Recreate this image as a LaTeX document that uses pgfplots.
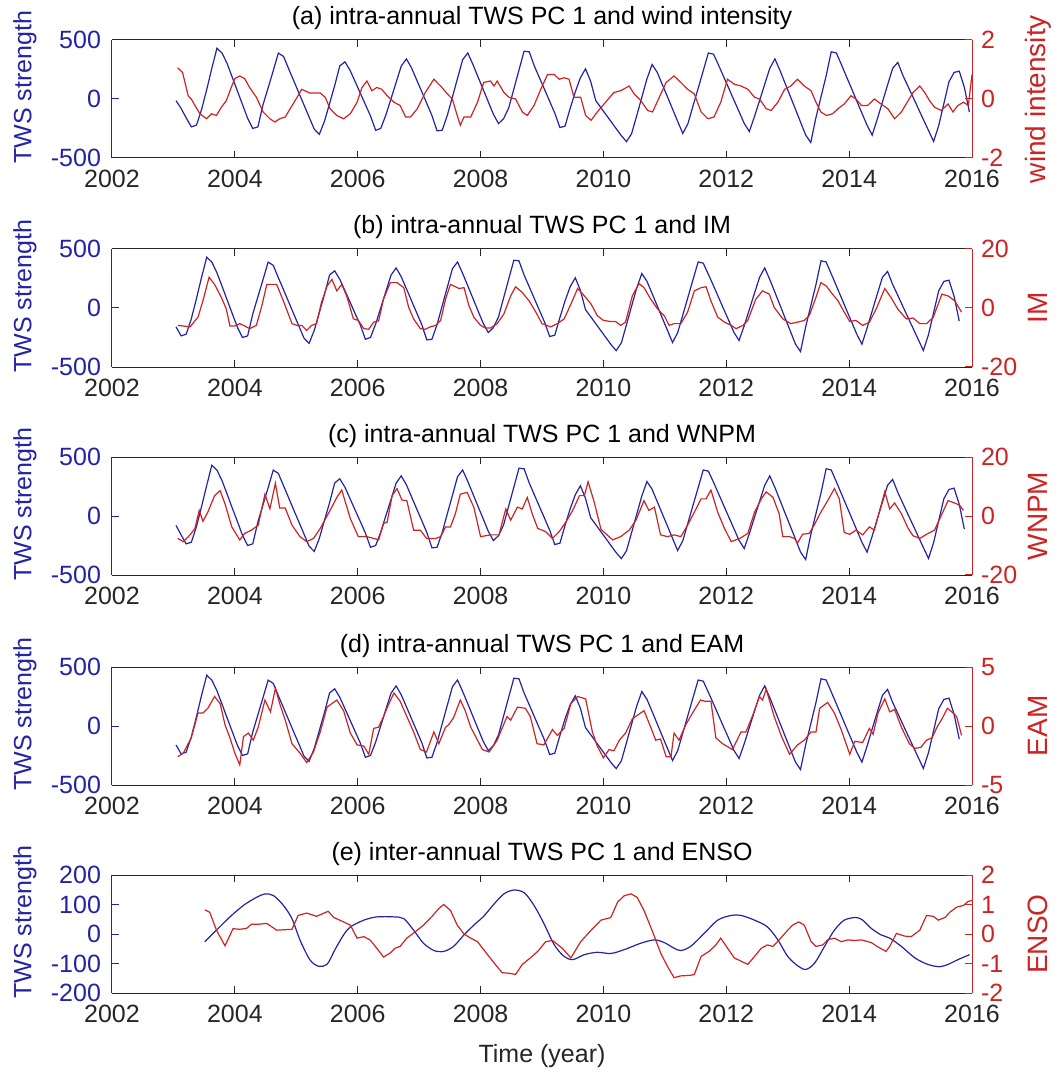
\documentclass[border=0pt]{standalone}
\usepackage{pgfplots}
\usepackage{pgfplotstable}
\pgfplotsset{compat=1.18}
\usepackage{fontspec}
\setmainfont{Liberation Sans}
\definecolor{tws}{RGB}{35,35,165}
\definecolor{ensred}{RGB}{205,35,35}
\definecolor{axgray}{RGB}{38,38,38}

% t: panel (a) time; tc: panel (c) time (1 month earlier); tb: panels (b),(d) time (2 months earlier)
\pgfplotstableread[row sep=\\]{
t tc tb y\\
2003.042 2002.958 2002.875 -14\\ 2003.125 2003.042 2002.958 -80\\ 2003.208 2003.125 2003.042 -160\\ 2003.292 2003.208 2003.125 -236\\ 2003.375 2003.292 2003.208 -222\\ 2003.458 2003.375 2003.292 -90\\ 2003.542 2003.458 2003.375 80\\ 2003.625 2003.542 2003.458 260\\ 2003.708 2003.625 2003.542 430\\ 2003.792 2003.708 2003.625 389\\ 2003.875 2003.792 2003.708 299\\ 2003.958 2003.875 2003.792 184\\
2004.042 2003.958 2003.875 67\\ 2004.125 2004.042 2003.958 -48\\ 2004.208 2004.125 2004.042 -164\\ 2004.292 2004.208 2004.125 -250\\ 2004.375 2004.292 2004.208 -236\\ 2004.458 2004.375 2004.292 -50\\ 2004.542 2004.458 2004.375 95\\ 2004.625 2004.542 2004.458 240\\ 2004.708 2004.625 2004.542 389\\ 2004.792 2004.708 2004.625 361\\ 2004.875 2004.792 2004.708 257\\ 2004.958 2004.875 2004.792 155\\
2005.042 2004.958 2004.875 52\\ 2005.125 2005.042 2004.958 -50\\ 2005.208 2005.125 2005.042 -152\\ 2005.292 2005.208 2005.125 -255\\ 2005.375 2005.292 2005.208 -300\\ 2005.458 2005.375 2005.292 -190\\ 2005.542 2005.458 2005.375 -38\\ 2005.625 2005.542 2005.458 113\\ 2005.708 2005.625 2005.542 280\\ 2005.792 2005.708 2005.625 315\\ 2005.875 2005.792 2005.708 244\\ 2005.958 2005.875 2005.792 147\\
2006.042 2005.958 2005.875 50\\ 2006.125 2006.042 2005.958 -47\\ 2006.208 2006.125 2006.042 -144\\ 2006.292 2006.208 2006.125 -265\\ 2006.375 2006.292 2006.208 -250\\ 2006.458 2006.375 2006.292 -136\\ 2006.542 2006.458 2006.375 2\\ 2006.625 2006.542 2006.458 140\\ 2006.708 2006.625 2006.542 278\\ 2006.792 2006.708 2006.625 340\\ 2006.875 2006.792 2006.708 265\\ 2006.958 2006.875 2006.792 164\\
2007.042 2006.958 2006.875 63\\ 2007.125 2007.042 2006.958 -38\\ 2007.208 2007.125 2007.042 -140\\ 2007.292 2007.208 2007.125 -270\\ 2007.375 2007.292 2007.208 -265\\ 2007.458 2007.375 2007.292 -140\\ 2007.542 2007.458 2007.375 18\\ 2007.625 2007.542 2007.458 175\\ 2007.708 2007.625 2007.542 333\\ 2007.792 2007.708 2007.625 390\\ 2007.875 2007.792 2007.708 293\\ 2007.958 2007.875 2007.792 188\\
2008.042 2007.958 2007.875 82\\ 2008.125 2008.042 2007.958 -23\\ 2008.208 2008.125 2008.042 -129\\ 2008.292 2008.208 2008.125 -208\\ 2008.375 2008.292 2008.208 -167\\ 2008.458 2008.375 2008.292 -75\\ 2008.542 2008.458 2008.375 85\\ 2008.625 2008.542 2008.458 245\\ 2008.708 2008.625 2008.542 405\\ 2008.792 2008.708 2008.625 400\\ 2008.875 2008.792 2008.708 280\\ 2008.958 2008.875 2008.792 180\\
2009.042 2008.958 2008.875 80\\ 2009.125 2009.042 2008.958 -20\\ 2009.208 2009.125 2009.042 -120\\ 2009.292 2009.208 2009.125 -242\\ 2009.375 2009.292 2009.208 -230\\ 2009.458 2009.375 2009.292 -80\\ 2009.542 2009.458 2009.375 60\\ 2009.625 2009.542 2009.458 180\\ 2009.708 2009.625 2009.542 256\\ 2009.792 2009.708 2009.625 150\\ 2009.875 2009.792 2009.708 -14\\ 2009.958 2009.875 2009.792 -73\\
2010.042 2009.958 2009.875 -133\\ 2010.125 2010.042 2009.958 -192\\ 2010.208 2010.125 2010.042 -252\\ 2010.292 2010.208 2010.125 -311\\ 2010.375 2010.292 2010.208 -361\\ 2010.458 2010.375 2010.292 -295\\ 2010.542 2010.458 2010.375 -142\\ 2010.625 2010.542 2010.458 15\\ 2010.708 2010.625 2010.542 170\\ 2010.792 2010.708 2010.625 292\\ 2010.875 2010.792 2010.708 227\\ 2010.958 2010.875 2010.792 123\\
2011.042 2010.958 2010.875 19\\ 2011.125 2011.042 2010.958 -85\\ 2011.208 2011.125 2011.042 -189\\ 2011.292 2011.208 2011.125 -292\\ 2011.375 2011.292 2011.208 -210\\ 2011.458 2011.375 2011.292 -60\\ 2011.542 2011.458 2011.375 90\\ 2011.625 2011.542 2011.458 240\\ 2011.708 2011.625 2011.542 390\\ 2011.792 2011.708 2011.625 380\\ 2011.875 2011.792 2011.708 286\\ 2011.958 2011.875 2011.792 188\\
2012.042 2011.958 2011.875 89\\ 2012.125 2012.042 2011.958 -10\\ 2012.208 2012.125 2012.042 -108\\ 2012.292 2012.208 2012.125 -207\\ 2012.375 2012.292 2012.208 -275\\ 2012.458 2012.375 2012.292 -150\\ 2012.542 2012.458 2012.375 -13\\ 2012.625 2012.542 2012.458 124\\ 2012.708 2012.625 2012.542 260\\ 2012.792 2012.708 2012.625 340\\ 2012.875 2012.792 2012.708 241\\ 2012.958 2012.875 2012.792 132\\
2013.042 2012.958 2012.875 23\\ 2013.125 2013.042 2012.958 -86\\ 2013.208 2013.125 2013.042 -195\\ 2013.292 2013.208 2013.125 -305\\ 2013.375 2013.292 2013.208 -369\\ 2013.458 2013.375 2013.292 -160\\ 2013.542 2013.458 2013.375 18\\ 2013.625 2013.542 2013.458 195\\ 2013.708 2013.625 2013.542 400\\ 2013.792 2013.708 2013.625 390\\ 2013.875 2013.792 2013.708 290\\ 2013.958 2013.875 2013.792 187\\
2014.042 2013.958 2013.875 85\\ 2014.125 2014.042 2013.958 -18\\ 2014.208 2014.125 2014.042 -120\\ 2014.292 2014.208 2014.125 -223\\ 2014.375 2014.292 2014.208 -306\\ 2014.458 2014.375 2014.292 -170\\ 2014.542 2014.458 2014.375 -25\\ 2014.625 2014.542 2014.458 118\\ 2014.708 2014.625 2014.542 260\\ 2014.792 2014.708 2014.625 310\\ 2014.875 2014.792 2014.708 200\\ 2014.958 2014.875 2014.792 107\\
2015.042 2014.958 2014.875 13\\ 2015.125 2015.042 2014.958 -80\\ 2015.208 2015.125 2015.042 -174\\ 2015.292 2015.208 2015.125 -267\\ 2015.375 2015.292 2015.208 -360\\ 2015.458 2015.375 2015.292 -225\\ 2015.542 2015.458 2015.375 -39\\ 2015.625 2015.542 2015.458 146\\ 2015.708 2015.625 2015.542 225\\ 2015.792 2015.708 2015.625 236\\ 2015.875 2015.792 2015.708 100\\ 2015.958 2015.875 2015.792 -111\\
}\twsA

\pgfplotsset{
  base/.style={
    scale only axis, width=430pt, height=59pt,
    xmin=2002, xmax=2016,
    xtick={2002,2004,2006,2008,2010,2012,2014,2016},
    tick align=inside,
    major tick length=3.5pt,
    /pgf/number format/assume math mode=true,
    /pgf/number format/1000 sep={},
    font=\fontsize{12.5}{15}\selectfont,
    ticklabel style={font=\fontsize{12.5}{15}\selectfont},
    label style={font=\fontsize{12.5}{15}\selectfont},
  },
  lefty/.style={base,
    axis y line*=left,
    x axis line style={-, draw=axgray, line width=0.5pt},
    y axis line style={-, draw=tws, line width=0.5pt},
    xtick style={draw=axgray, line width=0.5pt},
    ytick style={draw=tws, line width=0.5pt},
    xticklabel style={text=axgray, yshift=-2.5pt},
    yticklabel style={text=tws, xshift=-2pt},
    ylabel={TWS strength},
    ylabel style={text=tws, at={(axis description cs:-0.1012,0.6)}, anchor=center},
    title style={at={(axis description cs:0.5,1)}, anchor=base, yshift=1.5pt, text=black, font=\fontsize{12.5}{15}\selectfont},
  },
  righty/.style={base,
    axis y line*=right, axis x line=none,
    y axis line style={-, draw=ensred, line width=0.5pt},
    ytick style={draw=ensred, line width=0.5pt},
    yticklabel style={text=ensred, xshift=1pt},
    ylabel style={text=ensred, at={(axis description cs:1.0767,0.5)}, anchor=center, font=\fontsize{14}{16}\selectfont},
  },
  tl/.style={tws, line width=0.6pt},
  rl/.style={ensred, line width=0.6pt},
}

\begin{document}
\begin{tikzpicture}
\path[use as bounding box] (-56pt,20pt) rectangle (474pt,-517.5pt);

% ---------- (a)
\begin{axis}[lefty, at={(0,0)}, anchor=north west,
  ymin=-500, ymax=500, ytick={-500,0,500},
  title={(a) intra-annual TWS PC 1 and wind intensity}]
\addplot[tl] table[x=t,y=y] {\twsA};
\end{axis}
\begin{axis}[righty, at={(0,0)}, anchor=north west,
  ymin=-2, ymax=2, ytick={-2,0,2}, ylabel={wind intensity}]
\addplot[rl] coordinates {(2003.07,1.06)(2003.15,0.89)(2003.24,0.11)(2003.29,0)(2003.35,-0.22)(2003.43,-0.5)(2003.54,-0.67)(2003.62,-0.5)(2003.70,-0.56)(2003.78,-0.28)(2003.86,-0.06)(2003.95,0.44)(2004.0,0.69)(2004.08,0.78)(2004.16,0.69)(2004.24,0.39)(2004.35,0.06)(2004.46,-0.44)(2004.57,-0.67)(2004.65,-0.78)(2004.73,-0.67)(2004.82,-0.61)(2004.90,-0.33)(2004.98,-0.06)(2005.09,0.33)(2005.22,0.2)(2005.39,0.2)(2005.47,0.06)(2005.55,-0.33)(2005.66,-0.56)(2005.77,-0.67)(2005.88,-0.5)(2005.99,-0.11)(2006.07,0.39)(2006.15,0.61)(2006.23,0.28)(2006.31,0.39)(2006.39,0.33)(2006.48,0.11)(2006.59,-0.11)(2006.69,-0.22)(2006.78,-0.61)(2006.86,-0.61)(2006.97,-0.33)(2007.10,0.22)(2007.24,0.67)(2007.35,0.44)(2007.46,0.17)(2007.54,0)(2007.62,-0.56)(2007.67,-0.89)(2007.73,-0.61)(2007.84,-0.61)(2007.95,-0.11)(2008.05,0.56)(2008.16,0.61)(2008.22,0.44)(2008.27,0.61)(2008.38,0.22)(2008.46,0.06)(2008.57,0)(2008.68,-0.44)(2008.76,-0.56)(2008.87,-0.22)(2008.98,0.33)(2009.09,0.83)(2009.20,0.83)(2009.28,0.67)(2009.36,0.72)(2009.44,0.67)(2009.52,0.06)(2009.63,0.06)(2009.71,-0.56)(2009.80,-0.72)(2009.90,-0.44)(2010.01,-0.17)(2010.17,0.22)(2010.28,0.28)(2010.42,0.44)(2010.50,0.17)(2010.61,-0.06)(2010.72,-0.39)(2010.80,-0.44)(2010.91,0.06)(2011.02,0.56)(2011.15,0.78)(2011.26,0.56)(2011.37,0.33)(2011.48,0.17)(2011.59,-0.44)(2011.70,-0.67)(2011.80,-0.61)(2011.91,-0.11)(2012.02,0.67)(2012.13,0.5)(2012.24,0.44)(2012.35,0.33)(2012.46,0.06)(2012.54,0)(2012.65,-0.33)(2012.73,-0.39)(2012.84,-0.11)(2012.95,0.33)(2013.05,0.44)(2013.16,0.67)(2013.27,0.44)(2013.38,0.28)(2013.46,-0.11)(2013.54,-0.44)(2013.63,-0.56)(2013.73,-0.5)(2013.82,-0.33)(2013.92,-0.17)(2014.03,0.11)(2014.11,0)(2014.20,-0.22)(2014.30,-0.22)(2014.41,0)(2014.52,-0.17)(2014.63,-0.33)(2014.74,-0.67)(2014.85,-0.44)(2014.96,-0.06)(2015.04,0.22)(2015.15,0.44)(2015.23,0.22)(2015.31,-0.06)(2015.39,-0.28)(2015.50,-0.39)(2015.61,-0.17)(2015.69,-0.44)(2015.77,-0.22)(2015.86,-0.11)(2015.94,-0.22)(2016.0,0.83)};
\end{axis}

% ---------- (b)
\begin{axis}[lefty, at={(0,-104.5pt)}, anchor=north west,
  ymin=-500, ymax=500, ytick={-500,0,500},
  title={(b) intra-annual TWS PC 1 and IM}]
\addplot[tl, restrict x to domain=2003:2017] table[x=tb,y=y] {\twsA};
\end{axis}
\begin{axis}[righty, at={(0,-104.5pt)}, anchor=north west,
  ymin=-20, ymax=20, ytick={-20,0,20}, ylabel={IM}]
\addplot[rl] coordinates {(2003.07,-5.9)(2003.16,-6.1)(2003.27,-6.4)(2003.40,-3.1)(2003.48,2.4)(2003.58,10.4)(2003.67,8)(2003.78,3.6)(2003.86,-0.3)(2003.92,-6.1)(2004.0,-6.1)(2004.08,-5.3)(2004.16,-6.1)(2004.24,-7)(2004.35,-5.9)(2004.44,0.8)(2004.52,8)(2004.68,8)(2004.79,2.4)(2004.93,-5.3)(2005.01,-5.9)(2005.09,-5.9)(2005.17,-7.6)(2005.25,-5.9)(2005.33,-5.3)(2005.41,1.9)(2005.50,7.4)(2005.58,9.7)(2005.66,5.8)(2005.74,8)(2005.82,4.1)(2005.93,-3.7)(2006.01,-4.2)(2006.10,-7)(2006.18,-7.2)(2006.26,-4.8)(2006.34,-4.4)(2006.42,3)(2006.53,8.6)(2006.64,8.6)(2006.75,6.9)(2006.83,0.2)(2006.91,-3.7)(2007.02,-7)(2007.10,-7.2)(2007.18,-6.4)(2007.27,-5.9)(2007.35,-4.2)(2007.43,3)(2007.51,8)(2007.65,6.6)(2007.73,6.9)(2007.81,0.8)(2007.89,-3.1)(2008.0,-5.9)(2008.08,-6.8)(2008.16,-6.8)(2008.27,-5.3)(2008.38,-2)(2008.49,4.1)(2008.57,7.2)(2008.68,5.2)(2008.79,2.4)(2008.90,-1.4)(2009.0,-5.3)(2009.14,-6.4)(2009.25,-5.3)(2009.36,-3.7)(2009.47,1.3)(2009.58,6.6)(2009.69,4.1)(2009.80,1.3)(2009.90,-2.6)(2010.0,-4.2)(2010.12,-4.6)(2010.20,-4.6)(2010.28,-5.9)(2010.36,-4.8)(2010.47,4.1)(2010.58,8.3)(2010.66,6.9)(2010.77,3)(2010.88,-0.3)(2010.99,-2.6)(2011.07,-5.9)(2011.15,-5.3)(2011.26,-5.3)(2011.37,-1.4)(2011.48,5.8)(2011.59,6.9)(2011.67,7.2)(2011.75,2.4)(2011.86,-3.1)(2011.97,-4.8)(2012.08,-5.9)(2012.16,-7)(2012.27,-5.9)(2012.35,-4.2)(2012.48,3)(2012.59,5.8)(2012.70,4.7)(2012.78,0.2)(2012.92,-3.7)(2013.05,-5.3)(2013.16,-4.8)(2013.27,-4.2)(2013.35,-2.6)(2013.46,3.6)(2013.54,8.6)(2013.63,7.4)(2013.71,5.2)(2013.82,2.4)(2013.92,-1.4)(2014.01,-4.6)(2014.11,-4.2)(2014.22,-5.9)(2014.33,-4.8)(2014.44,-0.3)(2014.58,6.6)(2014.68,3.6)(2014.79,-0.3)(2014.93,-3.7)(2015.04,-3.4)(2015.15,-5.3)(2015.26,-5.3)(2015.37,-3.1)(2015.51,4.7)(2015.61,4.1)(2015.72,2.4)(2015.83,-1.4)};
\end{axis}

% ---------- (c)
\begin{axis}[lefty, at={(0,-208.5pt)}, anchor=north west,
  ymin=-500, ymax=500, ytick={-500,0,500},
  title={(c) intra-annual TWS PC 1 and WNPM}]
\addplot[tl, restrict x to domain=2003:2017] table[x=tc,y=y] {\twsA};
\end{axis}
\begin{axis}[righty, at={(0,-208.5pt)}, anchor=north west,
  ymin=-20, ymax=20, ytick={-20,0,20}, ylabel={WNPM}]
\addplot[rl] coordinates {(2003.07,-7.6)(2003.16,-8.7)(2003.27,-6.4)(2003.35,-4.2)(2003.42,1.9)(2003.48,-1.8)(2003.56,1.3)(2003.67,6.9)(2003.76,8.6)(2003.84,4.1)(2003.95,-3.7)(2004.08,-8.1)(2004.16,-5.9)(2004.27,-4.8)(2004.38,-3.1)(2004.49,7.4)(2004.57,2.4)(2004.66,11.1)(2004.73,2.7)(2004.82,2.7)(2004.93,-3.1)(2005.06,-7)(2005.17,-8.7)(2005.28,-7.6)(2005.39,-4.2)(2005.55,1.9)(2005.66,6.3)(2005.74,8.8)(2005.88,-0.9)(2006.01,-7)(2006.15,-7)(2006.26,-7.6)(2006.34,-8.1)(2006.42,-2.6)(2006.48,-2)(2006.56,6.9)(2006.64,9.3)(2006.72,5.4)(2006.80,5.2)(2006.91,-4.8)(2007.02,-4.8)(2007.12,-7.6)(2007.27,-7.6)(2007.35,-7)(2007.43,-3.7)(2007.51,-3.7)(2007.59,0.8)(2007.67,7.4)(2007.78,8)(2007.89,3)(2008.0,-7)(2008.16,-6.4)(2008.30,-6.4)(2008.41,2.4)(2008.49,-1.4)(2008.60,3)(2008.68,2.4)(2008.76,6.3)(2008.84,0.8)(2008.93,-4.2)(2009.06,-5.3)(2009.17,-7.6)(2009.28,-5.3)(2009.39,-2)(2009.50,1.9)(2009.61,6.9)(2009.69,6.9)(2009.75,11.6)(2009.85,4.7)(2009.96,-4.5)(2010.15,-8.1)(2010.28,-7)(2010.42,-4.8)(2010.53,-1.4)(2010.66,5.2)(2010.74,1.9)(2010.83,3)(2010.93,-6.4)(2011.04,-7)(2011.15,-6.4)(2011.26,-7)(2011.37,-3.1)(2011.48,1.3)(2011.59,5.8)(2011.67,5.8)(2011.75,8.8)(2011.86,1.3)(2011.97,-4.2)(2012.08,-8.7)(2012.22,-7.6)(2012.35,-5.9)(2012.46,1.3)(2012.57,5.8)(2012.65,8.2)(2012.76,6.3)(2012.86,0.8)(2012.92,-7)(2013.03,-7)(2013.11,-7.6)(2013.16,-9.2)(2013.24,-6.2)(2013.35,-5.9)(2013.43,-3.1)(2013.54,1.3)(2013.65,5.2)(2013.76,9.3)(2013.84,5.8)(2013.92,-5.6)(2014.01,-6.2)(2014.11,-4.8)(2014.22,-6.4)(2014.33,-3.7)(2014.41,-4.8)(2014.49,1.3)(2014.58,8.2)(2014.66,2.4)(2014.74,4.4)(2014.85,0.8)(2014.96,-4.2)(2015.04,-6.7)(2015.15,-7.6)(2015.26,-6.2)(2015.39,-4.8)(2015.50,0.2)(2015.61,5.2)(2015.72,4.4)(2015.80,3.6)(2015.86,1.9)};
\end{axis}

% ---------- (d)
\begin{axis}[lefty, at={(0,-313.5pt)}, anchor=north west,
  ymin=-500, ymax=500, ytick={-500,0,500},
  title={(d) intra-annual TWS PC 1 and EAM}]
\addplot[tl, restrict x to domain=2003:2017] table[x=tb,y=y] {\twsA};
\end{axis}
\begin{axis}[righty, at={(0,-313.5pt)}, anchor=north west,
  ymin=-5, ymax=5, ytick={-5,0,5}, ylabel={EAM}]
\addplot[rl] coordinates {(2003.07,-2.6)(2003.16,-2.3)(2003.29,-1.0)(2003.40,1.1)(2003.48,1.1)(2003.56,1.5)(2003.67,2.5)(2003.76,1.9)(2003.84,0.1)(2003.92,-1.0)(2004.0,-2.3)(2004.08,-3.3)(2004.14,-0.9)(2004.22,-0.6)(2004.30,-1.2)(2004.38,-0.1)(2004.49,2.2)(2004.58,1.2)(2004.66,3.2)(2004.73,1.9)(2004.82,0.5)(2004.93,-1.5)(2005.06,-2.3)(2005.17,-3.1)(2005.28,-2.2)(2005.39,-0.5)(2005.50,1.6)(2005.66,2.2)(2005.77,1.3)(2005.88,-0.6)(2005.99,-1.6)(2006.10,-1.7)(2006.18,-2.4)(2006.26,-0.2)(2006.34,-0.1)(2006.42,0.8)(2006.50,1.8)(2006.59,2.8)(2006.69,2.1)(2006.80,0.8)(2006.91,-0.5)(2007.02,-2.0)(2007.12,-2.2)(2007.24,-0.5)(2007.32,-1.5)(2007.43,-0.1)(2007.48,0.1)(2007.56,0.7)(2007.67,2.2)(2007.75,1.3)(2007.84,-0.1)(2007.92,-0.9)(2008.03,-2.0)(2008.14,-2.2)(2008.27,-1.2)(2008.43,0.8)(2008.49,0.5)(2008.60,1.6)(2008.73,1.5)(2008.81,0.8)(2008.92,-1.5)(2009.03,-1.6)(2009.17,-0.3)(2009.25,-0.8)(2009.36,-0.2)(2009.47,1.9)(2009.58,2.5)(2009.71,2.3)(2009.82,-0.5)(2009.90,-1.7)(2010.0,-2.7)(2010.09,-2.0)(2010.17,-2.1)(2010.26,-1.2)(2010.36,-0.6)(2010.47,0.6)(2010.55,0.9)(2010.66,1.3)(2010.77,-0.1)(2010.85,-1.2)(2010.93,-1.1)(2011.02,-2.6)(2011.10,-2.6)(2011.15,-0.6)(2011.23,-1.2)(2011.34,0.1)(2011.45,1.1)(2011.58,2.2)(2011.65,2.1)(2011.75,2.1)(2011.83,-1.0)(2011.94,-1.5)(2012.10,-2.0)(2012.24,-0.5)(2012.32,-0.5)(2012.43,0.9)(2012.54,2.5)(2012.59,2.2)(2012.65,3.1)(2012.78,0.8)(2012.90,-0.9)(2013.03,-2.4)(2013.16,-1.6)(2013.27,-1.2)(2013.38,-0.5)(2013.46,-0.5)(2013.52,1.5)(2013.65,2.0)(2013.76,1.1)(2013.87,-0.3)(2014.01,-2.4)(2014.09,-1.3)(2014.22,-1.4)(2014.33,-0.2)(2014.39,-0.7)(2014.47,1.1)(2014.58,2.3)(2014.66,1.2)(2014.74,1.4)(2014.85,-0.1)(2014.98,-1.5)(2015.07,-1.9)(2015.17,-1.8)(2015.26,-1.2)(2015.35,-1.0)(2015.43,-0.1)(2015.51,0.6)(2015.60,1.5)(2015.67,1.2)(2015.75,0.8)(2015.83,-0.8)};
\end{axis}

% ---------- (e)
\begin{axis}[lefty, at={(0,-417.5pt)}, anchor=north west,
  ymin=-200, ymax=200, ytick={-200,-100,0,100,200},
  title={(e) inter-annual TWS PC 1 and ENSO},
  xlabel={Time (year)},
  xlabel style={at={(axis description cs:0.5,0)}, anchor=base, yshift=-34.5pt, text=axgray}]
\addplot[tl, smooth] coordinates {(2003.51,-26)(2003.70,13)(2003.92,58)(2004.14,97)(2004.35,124)(2004.49,136)(2004.63,130)(2004.79,97)(2004.93,52)(2005.06,-20)(2005.22,-87)(2005.36,-109)(2005.50,-103)(2005.63,-53)(2005.77,-3)(2005.88,24)(2006.10,47)(2006.31,58)(2006.59,58)(2006.75,52)(2006.91,13)(2007.07,-31)(2007.24,-56)(2007.40,-59)(2007.56,-42)(2007.73,-3)(2007.89,30)(2008.05,60)(2008.22,102)(2008.38,136)(2008.54,149)(2008.71,140)(2008.87,97)(2009.03,36)(2009.20,-37)(2009.36,-76)(2009.50,-87)(2009.69,-70)(2009.90,-62)(2010.12,-66)(2010.34,-53)(2010.61,-31)(2010.83,-20)(2010.99,-29)(2011.15,-48)(2011.26,-56)(2011.42,-42)(2011.64,2)(2011.86,47)(2012.08,63)(2012.24,63)(2012.46,47)(2012.67,24)(2012.84,-20)(2013.0,-76)(2013.17,-109)(2013.30,-120)(2013.44,-98)(2013.60,-42)(2013.76,13)(2013.92,47)(2014.11,56)(2014.22,47)(2014.36,19)(2014.52,-3)(2014.66,-14)(2014.85,-42)(2015.07,-81)(2015.28,-103)(2015.47,-111)(2015.61,-103)(2015.77,-87)(2015.96,-70)};
\end{axis}
\begin{axis}[righty, at={(0,-417.5pt)}, anchor=north west,
  ymin=-2, ymax=2, ytick={-2,-1,0,1,2}, ylabel={ENSO}]
\addplot[rl] coordinates {(2003.51,0.82)(2003.59,0.74)(2003.70,0.13)(2003.84,-0.4)(2003.97,0.18)(2004.08,0.16)(2004.19,0.19)(2004.27,0.33)(2004.38,0.33)(2004.52,0.36)(2004.68,0.13)(2004.93,0.16)(2005.03,0.63)(2005.17,0.71)(2005.33,0.6)(2005.52,0.77)(2005.61,0.56)(2005.77,0.41)(2005.88,0.3)(2005.99,-0.14)(2006.10,-0.09)(2006.20,-0.2)(2006.31,-0.48)(2006.42,-0.78)(2006.53,-0.64)(2006.61,-0.48)(2006.69,-0.42)(2006.80,-0.14)(2006.97,0.13)(2007.07,0.3)(2007.21,0.6)(2007.32,0.86)(2007.40,1.0)(2007.51,0.8)(2007.62,0.3)(2007.73,0)(2007.84,-0.14)(2007.95,-0.26)(2008.05,-0.53)(2008.22,-0.98)(2008.35,-1.31)(2008.46,-1.33)(2008.57,-1.37)(2008.68,-1.03)(2008.81,-0.81)(2008.93,-0.59)(2009.06,-0.26)(2009.17,-0.22)(2009.33,-0.48)(2009.47,-0.81)(2009.63,-0.26)(2009.80,0.13)(2009.96,0.47)(2010.12,0.56)(2010.23,1.08)(2010.34,1.3)(2010.45,1.36)(2010.55,1.24)(2010.66,0.8)(2010.80,0.08)(2010.93,-0.64)(2011.04,-1.09)(2011.15,-1.48)(2011.26,-1.42)(2011.42,-1.4)(2011.48,-1.37)(2011.59,-0.76)(2011.72,-0.59)(2011.83,-0.37)(2011.91,-0.14)(2012.02,-0.48)(2012.13,-0.81)(2012.24,-0.92)(2012.35,-1.03)(2012.46,-0.76)(2012.57,-0.48)(2012.67,-0.37)(2012.76,-0.42)(2012.86,-0.2)(2013.0,0.13)(2013.08,0.3)(2013.18,0.41)(2013.27,0.3)(2013.38,-0.26)(2013.46,-0.42)(2013.57,-0.37)(2013.65,-0.2)(2013.76,-0.14)(2013.87,-0.26)(2013.98,-0.2)(2014.09,-0.22)(2014.20,-0.2)(2014.36,-0.29)(2014.47,-0.44)(2014.60,-0.59)(2014.66,-0.42)(2014.77,0.02)(2014.90,-0.07)(2015.01,-0.09)(2015.15,0.13)(2015.26,0.63)(2015.37,0.6)(2015.45,0.47)(2015.56,0.56)(2015.64,0.74)(2015.75,0.91)(2015.86,0.97)(2015.94,1.11)(2016.0,1.13)};
\end{axis}
\end{tikzpicture}
\end{document}
